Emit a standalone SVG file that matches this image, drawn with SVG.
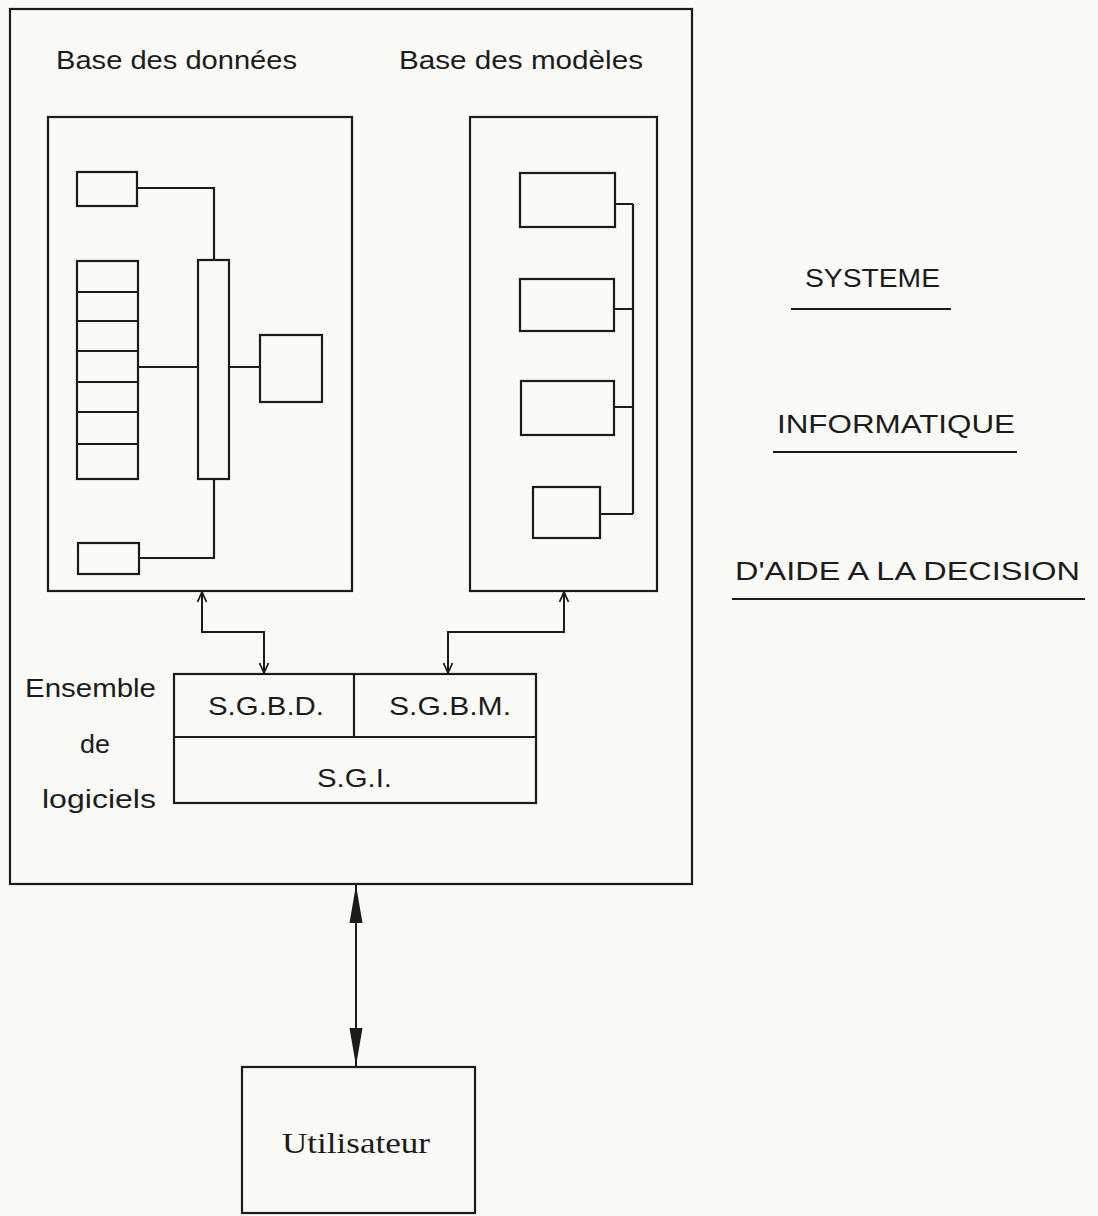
<svg xmlns="http://www.w3.org/2000/svg" width="1098" height="1216" viewBox="0 0 1098 1216">
<style>
.b{fill:none;stroke:#1c1c1c;stroke-width:2.2}
.c{fill:none;stroke:#1c1c1c;stroke-width:2}
.t{font-family:"Liberation Sans","DejaVu Sans",sans-serif;font-size:26px;fill:#1c1c1c}
.s{font-family:"Liberation Serif","DejaVu Serif",serif;font-size:29px;fill:#1c1c1c}
</style>
<defs>
<marker id="open" markerUnits="userSpaceOnUse" markerWidth="14" markerHeight="14" viewBox="-12 -6 14 12" refX="0" refY="0" orient="auto-start-reverse">
<path d="M-10,-4.5 L0,0 L-10,4.5" fill="none" stroke="#1c1c1c" stroke-width="1.8"/>
</marker>
<marker id="solid" markerUnits="userSpaceOnUse" markerWidth="40" markerHeight="16" viewBox="-39 -8 40 16" refX="0" refY="0" orient="auto-start-reverse">
<path d="M-38,-6.5 L0,0 L-38,6.5 Z" fill="#1c1c1c"/>
</marker>
</defs>
<rect width="1098" height="1216" fill="#fafaf6"/>

<g id="systeme">
<rect class="b" x="10" y="9" width="682" height="875"/>
</g>

<g id="base-donnees">
<text class="t" x="56" y="69" textLength="241" lengthAdjust="spacingAndGlyphs">Base des données</text>
<rect class="b" x="48" y="117" width="304" height="474"/>
<rect class="b" x="77" y="172" width="60" height="34"/>
<rect class="b" x="77" y="261" width="61" height="218"/>
<path class="b" d="M77,292 H138 M77,321 H138 M77,351 H138 M77,382 H138 M77,412 H138 M77,444 H138"/>
<rect class="b" x="198" y="260" width="31" height="219"/>
<rect class="b" x="260" y="335" width="62" height="67"/>
<rect class="b" x="78" y="543" width="61" height="31"/>
<path class="b" d="M137,188 H214 V260 M138,367 H198 M229,367 H260 M214,479 V558 H139"/>
</g>

<g id="base-modeles">
<text class="t" x="399" y="69" textLength="244" lengthAdjust="spacingAndGlyphs">Base des modèles</text>
<rect class="b" x="470" y="117" width="187" height="474"/>
<rect class="b" x="520" y="173" width="95" height="54"/>
<rect class="b" x="520" y="279" width="94" height="52"/>
<rect class="b" x="521" y="381" width="93" height="54"/>
<rect class="b" x="533" y="487" width="67" height="51"/>
<path class="b" d="M615,204 H633 M614,309 H633 M614,407 H633 M600,514 H633 M633,204 V514"/>
</g>

<g id="logiciels">
<text class="t" x="25" y="697" textLength="131" lengthAdjust="spacingAndGlyphs">Ensemble</text>
<text class="t" x="80" y="753" textLength="30" lengthAdjust="spacingAndGlyphs">de</text>
<text class="t" x="42" y="808" textLength="114" lengthAdjust="spacingAndGlyphs">logiciels</text>
<rect class="b" x="174" y="674" width="362" height="129"/>
<path class="b" d="M174,737 H536 M354,674 V737"/>
<text class="t" x="208" y="715" textLength="116" lengthAdjust="spacingAndGlyphs">S.G.B.D.</text>
<text class="t" x="389" y="715" textLength="122" lengthAdjust="spacingAndGlyphs">S.G.B.M.</text>
<text class="t" x="317" y="787" textLength="75" lengthAdjust="spacingAndGlyphs">S.G.I.</text>
</g>

<g id="titre">
<text class="t" x="805" y="287" textLength="135" lengthAdjust="spacingAndGlyphs">SYSTEME</text>
<path class="b" d="M791,309 H951"/>
<text class="t" x="777" y="433" textLength="238" lengthAdjust="spacingAndGlyphs">INFORMATIQUE</text>
<path class="b" d="M773,452 H1017"/>
<text class="t" x="735" y="580" textLength="345" lengthAdjust="spacingAndGlyphs">D'AIDE A LA DECISION</text>
<path class="b" d="M732,599 H1085"/>
</g>

<g id="utilisateur">
<rect class="b" x="242" y="1067" width="233" height="146"/>
<text class="s" x="282" y="1153" textLength="148" lengthAdjust="spacingAndGlyphs">Utilisateur</text>
</g>

<g id="connecteurs">
<path class="c" d="M202,592 V632 H264 V673" marker-start="url(#open)" marker-end="url(#open)"/>
<path class="c" d="M564,592 V632 H448 V673" marker-start="url(#open)" marker-end="url(#open)"/>
<path class="c" d="M356,885 V1066" marker-start="url(#solid)" marker-end="url(#solid)"/>
</g>
</svg>
